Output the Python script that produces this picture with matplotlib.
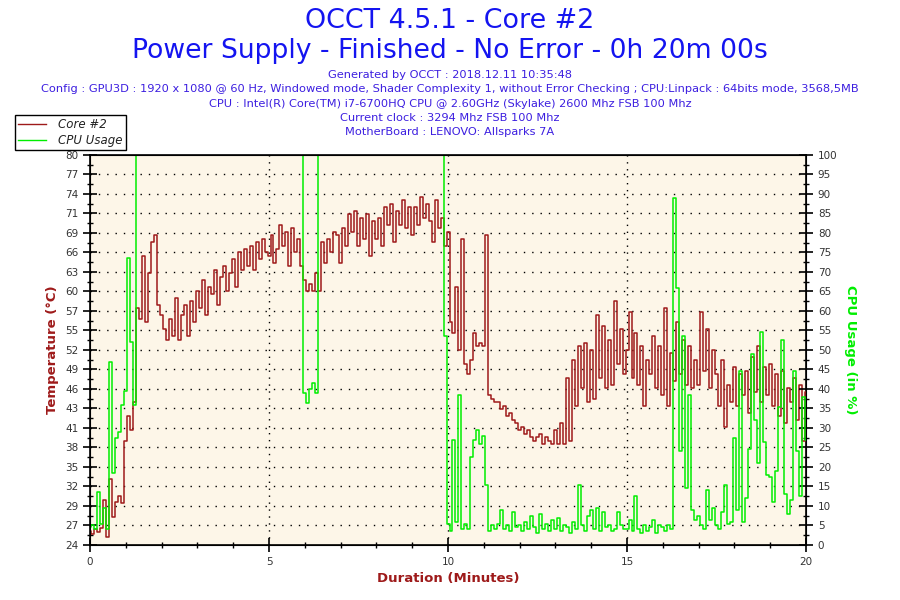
import numpy as np
import matplotlib
matplotlib.use("Agg")
import matplotlib.pyplot as plt
from matplotlib.ticker import MultipleLocator, FixedLocator
from matplotlib.lines import Line2D

# samples every 5 seconds, one row per minute
core_temp = [
    26.0, 25.6, 26.3, 25.8, 26.5, 30.5, 25.2, 33.5, 28.0, 30.2, 31.0, 30.0,
    39.0, 42.5, 40.5, 44.5, 58.0, 56.5, 65.5, 56.0, 63.0, 67.5, 68.5, 58.5,
    57.0, 55.0, 53.5, 56.5, 54.0, 59.5, 53.5, 57.0, 58.5, 54.0, 59.0, 56.0,
    60.5, 58.0, 62.0, 57.0, 61.0, 60.0, 63.5, 58.5, 62.5, 64.0, 60.5, 63.0,
    65.0, 61.0, 66.0, 63.5, 66.5, 64.0, 67.0, 63.5, 67.5, 65.0, 68.0, 66.0,
    65.5, 68.5, 64.5, 66.5, 70.0, 67.0, 69.0, 64.0, 69.5, 66.0, 68.0, 64.0,
    62.0, 60.5, 61.5, 60.5, 63.0, 60.5, 67.5, 64.5, 68.0, 66.0, 69.0, 68.5,
    64.5, 69.5, 67.0, 71.5, 69.0, 72.0, 67.0, 71.0, 68.0, 71.5, 65.5, 70.5,
    68.0, 71.0, 67.0, 72.5, 70.0, 73.0, 67.5, 72.0, 70.0, 73.5, 69.5, 72.5,
    68.5, 72.5, 70.0, 74.0, 71.0, 73.0, 70.5, 67.5, 73.5, 69.5, 71.0, 67.0,
    69.0, 56.0, 54.5, 61.0, 52.0, 68.0, 50.0, 48.5, 50.5, 54.5, 52.5, 53.0,
    52.5, 68.5, 45.5, 45.0, 44.5, 44.5, 43.5, 44.0, 42.5, 43.0, 42.0, 41.5,
    40.5, 41.0, 40.0, 40.5, 39.5, 39.0, 39.5, 40.0, 38.5, 39.5, 39.0, 38.5,
    40.5, 38.5, 41.5, 38.5, 48.0, 39.0, 50.5, 44.0, 52.5, 46.5, 53.0, 44.5,
    52.0, 45.0, 57.0, 48.0, 55.5, 46.5, 53.5, 47.0, 59.0, 50.0, 55.0, 48.5,
    52.0, 57.5, 48.0, 54.5, 47.0, 52.5, 44.0, 50.5, 48.5, 54.0, 46.5, 52.5,
    45.5, 58.0, 44.0, 51.5, 47.5, 56.0, 48.5, 53.5, 47.0, 52.5, 46.5, 50.5,
    47.0, 57.5, 49.0, 55.0, 46.5, 52.0, 48.5, 44.0, 50.5, 41.0, 47.0, 44.5,
    49.5, 44.0, 48.5, 45.5, 49.0, 43.0, 51.0, 46.0, 52.5, 44.5, 49.5, 45.5,
    50.0, 44.0, 48.5, 42.5, 49.0, 41.5, 46.5, 44.5, 48.0, 42.0, 47.0, 39.0,
    46.0,
]

cpu_usage = [
    4.5, 5.0, 4.0, 13.5, 5.5, 9.5, 4.0, 47.0, 18.5, 27.5, 29.0, 36.0,
    39.5, 73.5, 52.0, 36.0, 100, 100, 100, 100, 100, 100, 100, 100,
    100, 100, 100, 100, 100, 100, 100, 100, 100, 100, 100, 100,
    100, 100, 100, 100, 100, 100, 100, 100, 100, 100, 100, 100,
    100, 100, 100, 100, 100, 100, 100, 100, 100, 100, 100, 100,
    100, 100, 100, 100, 100, 100, 100, 100, 100, 100, 100, 100,
    39.0, 36.5, 40.0, 41.5, 39.0, 100, 100, 100, 100, 100, 100, 100,
    100, 100, 100, 100, 100, 100, 100, 100, 100, 100, 100, 100,
    100, 100, 100, 100, 100, 100, 100, 100, 100, 100, 100, 100,
    100, 100, 100, 100, 100, 100, 100, 100, 100, 100, 100, 53.5,
    5.5, 3.5, 27.0, 6.0, 38.5, 4.0, 5.5, 4.0, 22.5, 27.0, 29.5, 26.0,
    28.0, 15.5, 3.5, 5.0, 4.0, 5.5, 9.0, 4.0, 5.0, 3.5, 8.5, 4.5,
    5.0, 3.5, 6.0, 4.0, 7.5, 4.5, 3.0, 8.0, 4.0, 5.5, 3.5, 6.5,
    4.0, 7.0, 3.5, 5.0, 4.5, 3.0, 6.0, 4.0, 15.5, 5.0, 3.5, 7.5,
    9.0, 4.0, 9.5, 3.5, 8.5, 4.5, 5.0, 3.5, 4.0, 8.5, 5.0, 4.0,
    4.0, 6.5, 3.5, 12.5, 4.0, 3.0, 5.0, 3.5, 4.5, 6.5, 3.0, 5.0,
    4.5, 3.5, 5.0, 4.0, 89.0, 66.0, 24.0, 53.5, 14.5, 38.5, 9.0, 6.5,
    7.5, 5.0, 4.0, 14.0, 6.5, 9.5, 5.0, 4.0, 8.5, 15.5, 5.5, 6.0,
    27.5, 9.0, 44.5, 6.0, 12.0, 24.5, 49.0, 32.0, 21.0, 54.5, 26.5, 18.0,
    17.5, 11.0, 19.0, 35.5, 52.5, 13.0, 8.0, 11.5, 44.5, 24.0, 12.5, 38.0,
    27.0,
]

minutes = np.arange(len(core_temp)) / 12.0

temp_ticks = [24 + 2.8 * i for i in range(21)]
temp_labels = ["24", "27", "29", "32", "35", "38", "41", "43", "46", "49", "52",
               "55", "57", "60", "63", "66", "69", "71", "74", "77", "80"]

title_lines = ["OCCT 4.5.1 - Core #2",
               "Power Supply - Finished - No Error - 0h 20m 00s"]
info_lines = [
    "Generated by OCCT : 2018.12.11 10:35:48",
    "Config : GPU3D : 1920 x 1080 @ 60 Hz, Windowed mode, Shader Complexity 1, "
    "without Error Checking ; CPU:Linpack : 64bits mode, 3568,5MB",
    "CPU : Intel(R) Core(TM) i7-6700HQ CPU @ 2.60GHz (Skylake) 2600 Mhz FSB 100 Mhz",
    "Current clock : 3294 Mhz FSB 100 Mhz",
    "MotherBoard : LENOVO: Allsparks 7A",
]

temp_color = "#9E1A1A"
cpu_color = "#00EE00"
bg_color = "#FDF6E8"

fig = plt.figure(figsize=(9, 6), dpi=100)
ax = fig.add_axes([0.1, 0.0917, 0.7956, 0.65])
ax.set_facecolor(bg_color)

ax.plot(minutes, core_temp, color=temp_color, lw=1.1, drawstyle="steps-mid", zorder=3)
ax.set_xlim(0, 20)
ax.set_ylim(24, 80)

ax.yaxis.set_major_locator(FixedLocator(temp_ticks))
ax.set_yticklabels(temp_labels)
ax.yaxis.set_minor_locator(FixedLocator([t + 1.4 for t in temp_ticks[:-1]]))
ax.xaxis.set_major_locator(MultipleLocator(5))
ax.xaxis.set_minor_locator(MultipleLocator(1))

for t in temp_ticks[1:-1]:
    ax.axhline(t, color="black", lw=1, ls=(0, (1, 5)), zorder=1)
for m in [5, 10, 15]:
    ax.axvline(m, color="black", lw=1, ls=(0, (1, 4)), zorder=1)

ax.tick_params(axis="both", which="major", direction="inout", length=10,
               width=1.2, labelsize=7.5, labelcolor="#333333")
ax.tick_params(axis="both", which="minor", direction="inout", length=5, width=1)
for sp in ax.spines.values():
    sp.set_linewidth(1.2)

ax.set_xlabel("Duration (Minutes)", color=temp_color, fontsize=9.5,
              fontweight="bold", labelpad=4)
ax.set_ylabel("Temperature (°C)", color=temp_color, fontsize=9.5,
              fontweight="bold", labelpad=4)

ax2 = ax.twinx()
ax2.plot(minutes, cpu_usage, color=cpu_color, lw=1.1, drawstyle="steps-mid", zorder=2)
ax2.set_ylim(0, 100)
ax2.yaxis.set_major_locator(MultipleLocator(5))
ax2.yaxis.set_minor_locator(MultipleLocator(2.5))
ax2.tick_params(axis="y", which="major", direction="inout", length=10,
                width=1.2, labelsize=7.5, labelcolor="#333333")
ax2.tick_params(axis="y", which="minor", direction="inout", length=5, width=1)
ax2.set_ylabel("CPU Usage (in %)", color=cpu_color, fontsize=9.5,
               fontweight="bold", rotation=-90, labelpad=14)

fig.text(0.5, 1 - 21 / 600, title_lines[0], ha="center", va="center",
         color="#1414F0", fontsize=19.4)
fig.text(0.5, 1 - 51 / 600, title_lines[1], ha="center", va="center",
         color="#1414F0", fontsize=19.2)
for i, line in enumerate(info_lines):
    fig.text(0.5, 1 - (75 + 14.3 * i) / 600, line, ha="center", va="center",
             color="#3C1EE0", fontsize=8.2)

handles = [Line2D([], [], color=temp_color, lw=1),
           Line2D([], [], color=cpu_color, lw=1)]
leg = fig.legend(handles, ["Core #2", "CPU Usage"], loc="upper left",
                 bbox_to_anchor=(15 / 900, 1 - 115 / 600), borderaxespad=0,
                 fancybox=False, framealpha=1, edgecolor="black", fontsize=8.5,
                 handlelength=2.4, borderpad=0.25, labelspacing=0.25,
                 handletextpad=1.0)
leg.get_frame().set_linewidth(1)
for txt in leg.get_texts():
    txt.set_fontstyle("italic")
    txt.set_color("#222222")

fig.savefig("out.png", dpi=100)
